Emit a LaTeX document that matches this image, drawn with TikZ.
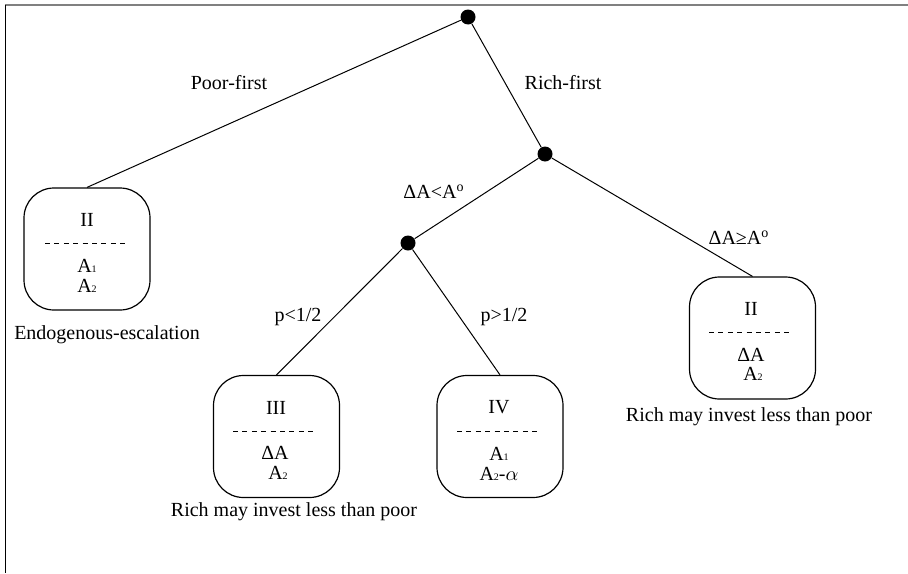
\documentclass[tikz,border=0pt]{standalone}
\usepackage{fontspec}
\setmainfont{Liberation Serif}
\usetikzlibrary{positioning}
\tikzset{
  dot/.style={circle,fill=black,inner sep=0pt,minimum size=7.5pt},
  outcome/.style={draw,rounded corners=15pt,minimum width=63pt,minimum height=61pt,line width=0.6pt},
  branch/.style={line width=0.5pt},
  sepline/.style={line width=0.5pt,dash pattern=on 2.5pt off 2.2pt},
  lbl/.style={inner sep=0pt,font=\fontsize{10}{10}\selectfont},
}
\begin{document}
\begin{tikzpicture}[x=0.5pt,y=-0.5pt]
  \useasboundingbox (0,0) rectangle (908,573);
  % frame
  \draw[gray,line width=1pt] (5,5) -- (908,5);
  \draw[line width=0.65pt] (5.5,5) -- (5.5,573);
  % decision nodes
  \node[dot] (root) at (468,17) {};
  \node[dot] (rich) at (545,154) {};
  \node[dot] (low) at (408,243) {};
  % outcome boxes
  \node[outcome] (boxL) at (87,249) {};
  \node[outcome] (boxR) at (752.5,338) {};
  \node[outcome] (boxIII) at (276.5,436.5) {};
  \node[outcome] (boxIV) at (500,436.5) {};
  % branches
  \draw[branch] (root) -- (boxL.north);
  \draw[branch] (root) -- (rich);
  \draw[branch] (rich) -- (low);
  \draw[branch] (rich) -- (boxR.north);
  \draw[branch] (low) -- (boxIII.north);
  \draw[branch] (low) -- (boxIV.north);
  % branch labels
  \node[lbl] (lPoor) at (229,83) {Poor-first};
  \node[lbl] (lRich) at (563,83) {Rich-first};
  \node[lbl] (lLess) at (434,192) {ΔA<A\textsuperscript{o}};
  \node[lbl] (lMore) at (739,238) {ΔA≥A\textsuperscript{o}};
  \node[lbl] (lPlow) at (298,317) {p<1/2};
  \node[lbl] (lPhigh) at (504,317) {p>1/2};
  % box II (left)
  \node[lbl] (tL) at (87,219.5) {II};
  \draw[sepline] (45,243) -- (125,243);
  \node[lbl] (aL) at (87,266) {A{\tiny 1}};
  \node[lbl] (bL) at (87,286) {A{\tiny 2}};
  \node[lbl] (cL) at (107,335) {Endogenous-escalation};
  % box II (right)
  \node[lbl] (tR) at (751,309) {II};
  \draw[sepline] (709,332) -- (790,332);
  \node[lbl] (aR) at (751,355) {ΔA};
  \node[lbl] (bR) at (753,374) {A{\tiny 2}};
  \node[lbl] (cR) at (749,417) {Rich may invest less than poor};
  % box III
  \node[lbl] (tIII) at (276,408) {III};
  \draw[sepline] (233,431) -- (314,431);
  \node[lbl] (aIII) at (275,453) {ΔA};
  \node[lbl] (bIII) at (278,473) {A{\tiny 2}};
  \node[lbl] (cIII) at (294,512) {Rich may invest less than poor};
  % box IV
  \node[lbl] (tIV) at (499,407) {IV};
  \draw[sepline] (457,431) -- (538,431);
  \node[lbl] (aIV) at (499,454) {A{\tiny 1}};
  \node[lbl] (bIV) at (499,474) {A{\tiny 2}-$\alpha$};
\end{tikzpicture}
\end{document}
